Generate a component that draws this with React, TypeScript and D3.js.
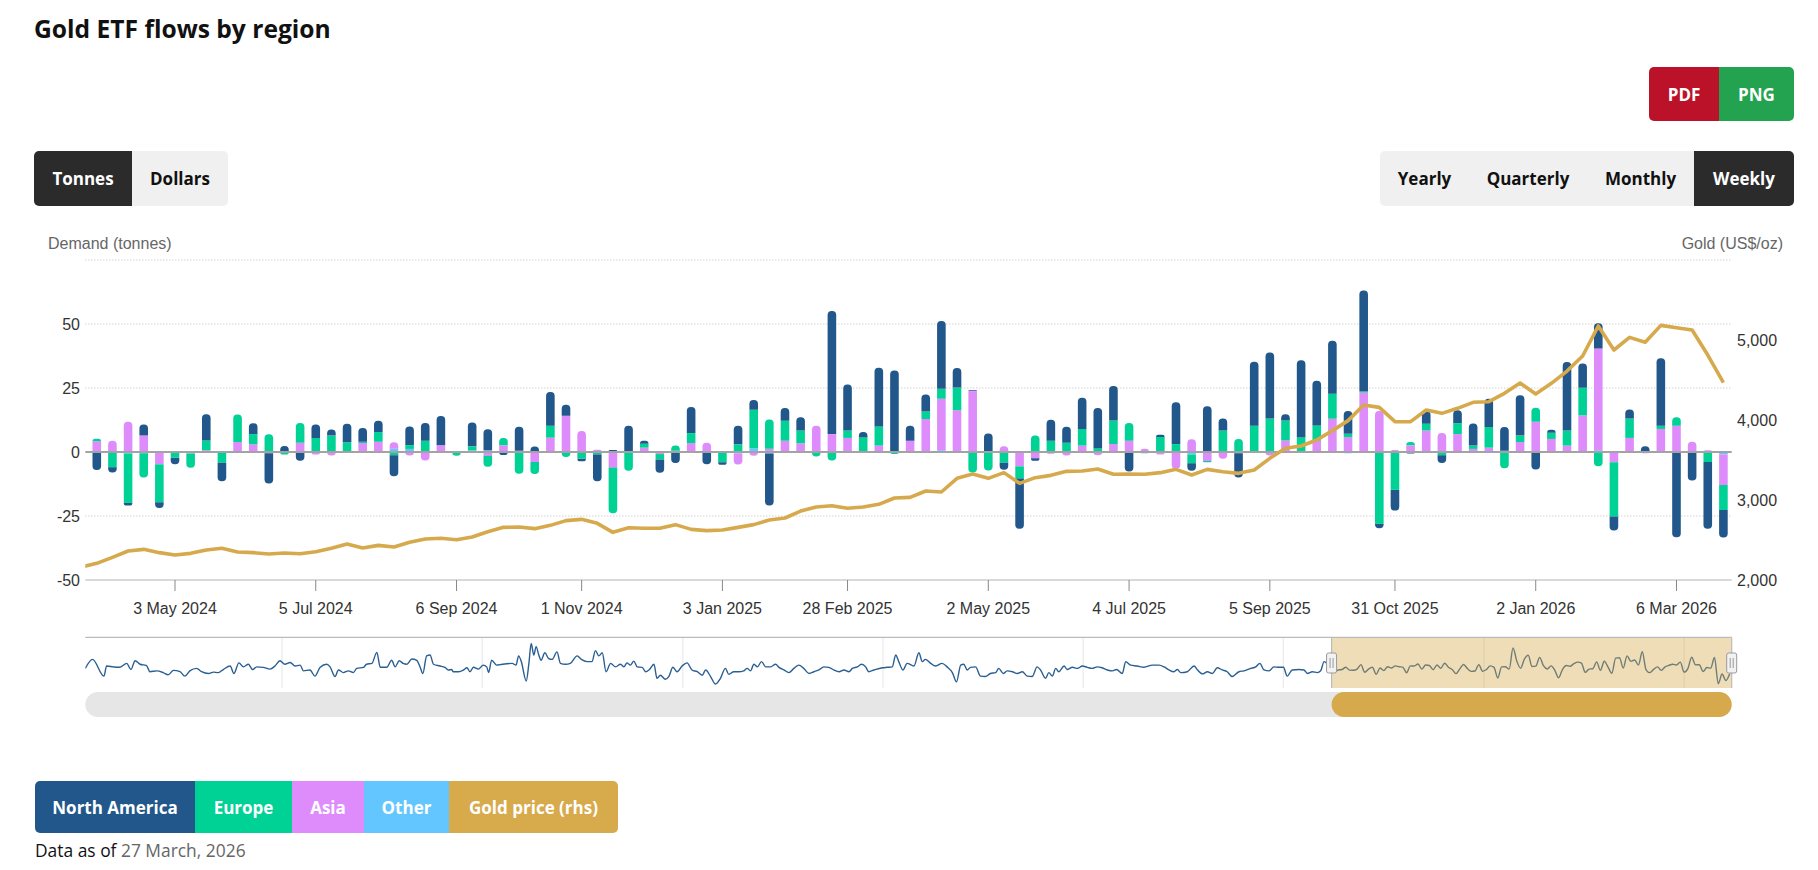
import React from "react";
import * as d3 from "d3";

// weekly ETF flows (tonnes), week ending Friday, 29 Mar 2024 .. 27 Mar 2026
const northAmerica = [
  -7, -2, -1, 4.3, -2.3, -2.6, 0, 10.2, -7.2, 0, 4.2, -11.8, 2.3, -3.4, 5.2, 2.4, 7.2, 5.4, 4.4, -8.2,
  7.3, 6.9, 11.5, 0, 9.3, 8.2, -1.2, 9.4, 1.8, 13.1, 4.3, -1, -10.4, 0.5, 10.3, 1.2, -5.2, -4.3, 10.2, -4.8,
  -1, 7.3, 3.8, -20.3, 5, 5.2, 0, 48.1, 18, 2, 22.9, 31.5, 5.9, 6.7, 26.5, 7.6, 0.3, 7.2, -2.7, -19.6,
  -1, 8.2, 6.3, 12.2, 15.7, 13.5, -7.6, 0, 0.8, 16.3, -2.9, 17.9, 4.7, -9.5, 25, 25.8, 2.4, 30, 17.4, 20.7,
  8.9, 39.5, -1.7, -8.1, -0.6, 5, -3, 5, 8.6, 11, 9.3, 15.8, -6.8, 1.2, 26.8, 9.5, 9.9, -5.5, 3.5, 2.2,
  26.3, -33.3, -11.1, -26.1, -10.7,
];
const europe = [
  1, -6, -19.3, -9.5, -14.8, -2.2, -5.6, 3.8, -4.2, 10.7, 4, 6.9, -1, 7.7, 5.5, 6.4, 3.5, 0.5, 3.8, -1.3,
  1.5, 4.4, 0, -1.5, 1.5, -4.3, 2.9, -8.5, -4.7, 4.7, -2, -2.6, -1, -17.8, -7.3, 1.5, -2.1, 2, 3.9, 0,
  -4, 3, 15, 11.4, 7.8, 5, -1.8, -3.3, 2.9, 5.8, 7.5, -0.8, 0, 2.9, 3.9, 8.9, -8, -7.2, -4.2, -4.8,
  6.4, 4.4, 3.3, 6.5, 1.5, 9.2, 6.9, -0.5, 5.9, 3.1, -3.4, -0.5, 8, 5.1, 10, 13.1, 7.8, 5.5, 6, 9.8,
  1.3, 0.4, -28.1, -14.8, 1.3, 2.6, -1.3, 4.3, 1.3, 8.1, -6.3, 2.5, 5.5, 2.4, 5.9, 10.8, -5.6, -21.2, 7.6, 0,
  1.3, 3.3, 0, -3.9, -9.8,
];
const asia = [
  4.2, 4.4, 11.8, 6.4, -4.8, 0, -0.6, 0.7, 0, 3.9, 2.6, -0.5, 0, 3.3, -1, -1.4, 0.3, 3.1, 4, 2.5,
  -1.4, -3.3, 2.6, 0, 0, -1.5, 2.6, 0.5, -3.9, 5.6, 14.2, 8.2, 0.7, -6.1, 0, 1.7, -0.8, 0, 3.5, 3.6,
  0, -4.3, -1.5, 1.3, 4.4, 3.1, 10.3, 7, 5.5, 0, 2.5, 0, 4.4, 12.5, 20.1, 16, 23.8, 0, 2.2, -5.6,
  -2.4, -0.7, -1.4, 2.5, -1.3, 3.1, 4.4, 1.3, -1, -6.5, 5, -3.5, -2.6, 0, 0, -1.4, 4.2, 0, 4.4, 12.7,
  5.8, 22.9, 16, 0.8, 2.6, 8.4, 7.4, 7, 1.2, 1.4, 0.5, 3.9, 11.4, 5.1, 2.2, 14, 39.7, -4, 5.5, -0.5,
  9, 10.3, 4, 0.7, -11.9,
];
const other = [
  0, 0, -0.6, -0.5, 0, 0, 0, 0, 0, 0, 0.4, 0, 0, 0.3, 0, 0, 0, 0.4, 0, 1.3,
  1.2, 0, 0, 0.2, 0.7, 0.7, 0, 0, 0.3, 0, 0, 0, 0.2, 0.3, 0, 0, 0, 0.5, 0, 0,
  0.3, -0.6, 1.5, -0.6, 0, 0.3, 0, 0, 0, 0, 0, 0.3, 0, 0.4, 0.7, 0.3, 0, 0, 0, 0,
  0, 0, 0.3, 0, 0, 0, 0, 0, 0, 0, -1, 0, 0.4, -0.5, 0.3, 0, 0.3, 0.3, 0, 0.3,
  -0.5, 0.3, 0, 0, 0, 0, 0, 0, 0, 0.3, 0, 0, 0.4, 0, 0.3, 0.3, 0.7, 0, 0, 0,
  0, 0, 0, 0, -1,
];

// gold price (US$/oz), starting one week before the first flow week
const goldPrice = [
  2162,
  2208, 2283, 2362, 2383, 2342, 2312, 2333, 2375, 2396, 2350, 2342, 2325, 2337, 2329, 2354, 2396, 2450, 2400, 2433, 2412,
  2471, 2512, 2521, 2504, 2537, 2604, 2658, 2662, 2642, 2683, 2742, 2758, 2708, 2596, 2654, 2646, 2646, 2692, 2633, 2617,
  2625, 2658, 2692, 2750, 2775, 2862, 2912, 2929, 2896, 2912, 2946, 3025, 3033, 3112, 3100, 3271, 3325, 3271, 3342, 3208,
  3279, 3308, 3358, 3362, 3387, 3321, 3325, 3321, 3342, 3383, 3312, 3383, 3354, 3333, 3375, 3521, 3646, 3675, 3750, 3867,
  3992, 4187, 4158, 3979, 3979, 4125, 4083, 4146, 4221, 4229, 4333, 4462, 4325, 4458, 4612, 4800, 5175, 4875, 5033, 4971,
  5183, 5154, 5125, 4812, 4467,
];

// navigator history (North America, tonnes) before the selected range: [week offset, tonnes]
const navigatorHistory: [number, number][] = [
  [-328.6, 1.5], [-326.7, 22], [-323.7, -16], [-323, 7], [-321.2, 5], [-319.5, 4], [-317.7, 13], [-316.6, -1],
  [-315.5, 19], [-314.2, 11], [-312.5, 8], [-311.6, -6], [-309.8, -4], [-308.1, -8], [-306.8, -13], [-305.4, -3],
  [-303.7, -6], [-302.4, -16], [-301.1, -4], [-299.3, 1.5], [-298, -6], [-296.2, -10], [-294.9, -7], [-293.6, -8],
  [-292.3, -1], [-290.5, 7], [-289.5, -10], [-288.2, 14], [-287, 5], [-285.7, 11], [-284.6, -1], [-283.5, 5],
  [-281.8, 4], [-280, 0], [-278.7, 7], [-277.4, 19], [-276.1, 11], [-274.7, 15], [-273.4, 7], [-272.1, 9],
  [-271.2, -4], [-269.5, -2], [-268.2, -16], [-266.8, 4], [-265.1, 11], [-264.2, 5], [-262.9, -17], [-262, -2],
  [-260.7, -8], [-259.4, -4], [-258.1, -8], [-257.2, 1.5], [-255.4, 4], [-254.6, 11], [-253.2, 13], [-251.9, 38],
  [-251, 4], [-249.3, 4], [-248, 20], [-247.1, 5], [-246, 19], [-245, 13], [-244, 11], [-242.7, 23],
  [-241.4, 20], [-240.5, 4], [-239.8, -10], [-238.8, 30], [-237.9, 32], [-237, 11], [-235.3, 7], [-234, 4],
  [-233.1, -2], [-232.2, -1], [-231.8, -6], [-230.4, -6], [-229.1, -2], [-228.2, 3], [-227.4, -6], [-226.5, 4],
  [-225.2, 0], [-223.9, 9], [-223, 5], [-222.5, -8], [-221.7, 20], [-220.4, 9], [-218.9, 11], [-216.3, 13],
  [-215.3, 9], [-214.6, 30], [-213.9, 17], [-212.6, -27], [-211.9, 13], [-211.3, 58], [-210.6, 32], [-210, 51],
  [-209.3, 32], [-208.7, 20], [-207.7, 37], [-206.7, 24], [-205.8, 22], [-204.5, 39], [-203.6, 13], [-202.3, 11],
  [-201, 13], [-199.2, 30], [-198.1, 22], [-196.6, 17], [-195.3, 17], [-194.4, 42], [-193.5, 30], [-192.6, 37],
  [-191.6, -6], [-190.4, 13], [-189.1, 5], [-187.8, 11], [-186.9, 5], [-186.1, 14], [-185.2, 9], [-184.3, 18],
  [-183.4, 5], [-182.1, 4], [-181.2, -6], [-180.2, -1], [-179, 11], [-178.2, -21], [-177.3, -14], [-176, -23],
  [-175.1, -17], [-174, 4], [-172.9, -6], [-171.6, 7], [-170.3, 14], [-169, -2], [-167.6, -6], [-166.3, -14],
  [-165.4, -2], [-164.1, -17], [-162.8, -34], [-161.5, -21], [-160.2, 1.5], [-159.3, -12], [-158, -6], [-156.7, -6],
  [-155.4, -4], [-154.5, 1.5], [-153.6, -4], [-152.7, 11], [-151.8, 5], [-150.7, 17], [-149.6, 5], [-148.3, 5],
  [-147, 11], [-146.1, 4], [-144.8, -2], [-143.5, -8], [-142.2, 1.5], [-140.9, 9], [-139.6, 1.5], [-138.2, -10],
  [-136.9, -6], [-135.6, -2], [-134.3, 5], [-133, 4], [-131.7, -2], [-130.3, -6], [-129, -2], [-127.7, -6],
  [-126.8, 1.5], [-125.5, 5], [-124.4, 11], [-123.3, 5], [-122.5, -6], [-121.1, -2], [-118.9, 3], [-117.6, 4],
  [-116.3, 5], [-115.4, 32], [-114.6, 17], [-113.5, -2], [-112.4, 13], [-110.6, 7], [-109.3, 37], [-108.4, 17],
  [-107.6, 22], [-106.2, 13], [-104.9, 7], [-103.2, 13], [-101.9, 5], [-100.5, -8], [-99.4, -29], [-98.3, 9],
  [-97.5, 11], [-96.6, -2], [-95.7, 4], [-94.4, 5], [-93.1, -16], [-91.8, -17], [-90.5, -10], [-89.1, -8],
  [-88.3, 1.5], [-87.1, -10], [-86.1, -4], [-84.7, -6], [-83.4, -10], [-82.1, -6], [-80.8, -16], [-79.5, -17],
  [-78.2, 5], [-77.3, -2], [-76, -21], [-75.1, -8], [-74.2, -16], [-73.3, 1.5], [-72.5, -6], [-71.1, 7],
  [-70.3, -1], [-68.9, 4], [-67.6, 1.5], [-66.3, 7], [-65, 4], [-63.7, 1.5], [-62.4, 5], [-61.1, 3],
  [-59.7, -2], [-58.4, -4], [-57.3, -1], [-55.8, -10], [-54.9, 17], [-53.6, 9], [-51.9, 7], [-50.1, 4],
  [-47.9, 9], [-46.1, 9], [-44.8, 5], [-43.5, -2], [-42.2, -6], [-41.3, -1], [-40.4, -8], [-38.7, -6],
  [-36.9, 7], [-36.1, -1], [-34.7, -11], [-33.4, -6], [-32.1, -10], [-30.8, 3], [-29.5, -2], [-28.2, -6],
  [-26.9, -17], [-25.1, -6], [-23.8, -4], [-22, 1.5], [-20.7, 5], [-19.6, 13], [-18.5, -2], [-17.2, -4],
  [-15.9, 5], [-14.6, 4], [-13.4, 4], [-12.4, -16], [-11.1, -2], [-9.3, -1], [-8, -2], [-7.1, -10],
  [-5.8, -6], [-4.5, -8], [-3.6, -4], [-2.7, 17],
];

const xTickLabels = [
  "3 May 2024", "5 Jul 2024", "6 Sep 2024", "1 Nov 2024", "3 Jan 2025", "28 Feb 2025",
  "2 May 2025", "4 Jul 2025", "5 Sep 2025", "31 Oct 2025", "2 Jan 2026", "6 Mar 2026",
];
const leftTicks = [-50, -25, 0, 25, 50, 75];
const rightTicks = [2000, 3000, 4000, 5000];
const navYears = [2019, 2020, 2021, 2022, 2023, 2024, 2025, 2026];

const series = [
  { name: "North America", values: northAmerica, color: "#21578a" },
  { name: "Europe", values: europe, color: "#00d296" },
  { name: "Asia", values: asia, color: "#de8cfc" },
  { name: "Other", values: other, color: "#63c6fe" },
];

const startDate = new Date(2024, 2, 29);
const WEEK = 7 * 864e5;
const parseTick = d3.timeParse("%d %b %Y");
const weekOf = (d: Date) => (d.getTime() - startDate.getTime()) / WEEK;

const AXIS_FONT = "'Liberation Sans', Arial, sans-serif";
const UI_FONT = "'Open Sans', 'Noto Sans', sans-serif";

// one end rounded column piece
function piece(x0: number, w: number, yTop: number, yBot: number, round: "top" | "bottom" | null) {
  const h = yBot - yTop;
  const r = Math.min(4, w / 2, h);
  const x1 = x0 + w;
  if (!round || r <= 0) return `M${x0},${yTop}H${x1}V${yBot}H${x0}Z`;
  if (round === "top")
    return `M${x0},${yBot}V${yTop + r}A${r},${r} 0 0 1 ${x0 + r},${yTop}H${x1 - r}A${r},${r} 0 0 1 ${x1},${yTop + r}V${yBot}Z`;
  return `M${x0},${yTop}H${x1}V${yBot - r}A${r},${r} 0 0 1 ${x1 - r},${yBot}H${x0 + r}A${r},${r} 0 0 1 ${x0},${yBot - r}Z`;
}

const App: React.FC = () => {
  const plot = { left: 85.3, right: 1731.7, top: 260, bottom: 580 };
  const nav = { top: 637.4, bottom: 688 };
  const n = northAmerica.length;

  const x = d3.scaleLinear().domain([-0.735, n - 1 + 0.53]).range([plot.left, plot.right]);
  const y = d3.scaleLinear().domain([-50, 75]).range([plot.bottom, plot.top]);
  const yGold = d3.scaleLinear().domain([2000, 6000]).range([plot.bottom, plot.top]);
  const navX = d3.scaleLinear().domain([-328.6, n - 1 + 0.53]).range([plot.left, plot.right]);
  const navY = d3.scaleLinear().domain([-43, 72]).range([nav.bottom, nav.top]);
  // year lines of the navigator sit on a calendar axis a touch wider than the history sampling
  const navYearX = d3
    .scaleLinear()
    .domain([weekOf(new Date(2019, 0, 1)), weekOf(new Date(2025, 0, 1))])
    .range([282, 1484]);

  const barW = 8.6;
  // stack from zero outward: Other, Asia, Europe, North America
  const stackOrder = [...series].reverse();

  const bars = d3.range(n).map((i) => {
    let pos = 0;
    let neg = 0;
    const segs: { a: number; b: number; color: string; sign: number }[] = [];
    stackOrder.forEach((s) => {
      const v = s.values[i];
      if (v > 0) {
        segs.push({ a: pos, b: pos + v, color: s.color, sign: 1 });
        pos += v;
      } else if (v < 0) {
        segs.push({ a: neg + v, b: neg, color: s.color, sign: -1 });
        neg += v;
      }
    });
    const lastPos = segs.map((s) => s.sign).lastIndexOf(1);
    const lastNeg = segs.map((s) => s.sign).lastIndexOf(-1);
    const x0 = x(i) - barW / 2;
    return segs.map((s, k) => (
      <path
        key={`${i}-${k}`}
        d={piece(x0, barW, y(s.b), y(s.a), k === lastPos ? "top" : k === lastNeg ? "bottom" : null)}
        fill={s.color}
      />
    ));
  });

  const goldLine = d3
    .line<number>()
    .x((_, i) => x(i - 1))
    .y((d) => yGold(d))(goldPrice);

  const navPoints: [number, number][] = [
    ...navigatorHistory,
    ...northAmerica.map((v, i) => [i, v] as [number, number]),
  ];
  const navLine = d3
    .line<[number, number]>()
    .x((d) => navX(d[0]))
    .y((d) => navY(d[1]))
    .curve(d3.curveMonotoneX)(navPoints);

  const maskL = navX(-0.735);
  const maskR = plot.right;

  const tickIdx = xTickLabels.map((t) => Math.round(weekOf(parseTick(t) as Date)));

  const button = (
    label: string,
    x0: number,
    x1: number,
    y0: number,
    y1: number,
    fill: string,
    color: string,
    round: "l" | "r" | "both" | null
  ) => {
    const r = 5;
    const left = round === "l" || round === "both";
    const right = round === "r" || round === "both";
    const d =
      `M${x0 + (left ? r : 0)},${y0}H${x1 - (right ? r : 0)}` +
      (right ? `A${r},${r} 0 0 1 ${x1},${y0 + r}V${y1 - r}A${r},${r} 0 0 1 ${x1 - r},${y1}` : `V${y1}`) +
      `H${x0 + (left ? r : 0)}` +
      (left ? `A${r},${r} 0 0 1 ${x0},${y1 - r}V${y0 + r}A${r},${r} 0 0 1 ${x0 + r},${y0}` : `V${y0}`) +
      "Z";
    return (
      <g key={label}>
        <path d={d} fill={fill} />
        <text
          x={(x0 + x1) / 2}
          y={(y0 + y1) / 2}
          textAnchor="middle"
          dominantBaseline="central"
          fontFamily={UI_FONT}
          fontWeight={700}
          fontSize={17}
          fill={color}
        >
          {label}
        </text>
      </g>
    );
  };

  const legendItems = [
    { label: "North America", color: series[0].color, x0: 35, x1: 195 },
    { label: "Europe", color: series[1].color, x0: 195, x1: 292 },
    { label: "Asia", color: series[2].color, x0: 292, x1: 364 },
    { label: "Other", color: series[3].color, x0: 364, x1: 449 },
    { label: "Gold price (rhs)", color: "#d7aa4b", x0: 449, x1: 618 },
  ];

  return (
    <div style={{ position: "absolute", left: 0, top: 0, width: 1818, height: 870, background: "#fff" }}>
      <svg width={1818} height={870} style={{ display: "block" }}>
        <defs>
          <clipPath id="plotClip">
            <rect x={plot.left} y={plot.top} width={plot.right - plot.left} height={plot.bottom - plot.top} />
          </clipPath>
          <clipPath id="navClip">
            <rect x={plot.left} y={nav.top} width={plot.right - plot.left} height={nav.bottom - nav.top} />
          </clipPath>
        </defs>

        <text x={34} y={38} fontFamily={UI_FONT} fontWeight={700} fontSize={24.6} fill="#111">
          Gold ETF flows by region
        </text>

        {button("PDF", 1649, 1719, 67, 121, "#bb1229", "#fff", "l")}
        {button("PNG", 1719, 1794, 67, 121, "#23a350", "#fff", "r")}

        {button("Tonnes", 34, 132, 151, 206, "#2b2b2b", "#fff", "l")}
        {button("Dollars", 132, 228, 151, 206, "#f0f0f0", "#111", "r")}

        {button("Yearly", 1380, 1469, 151, 206, "#f0f0f0", "#111", "l")}
        {button("Quarterly", 1469, 1587, 151, 206, "#f0f0f0", "#111", null)}
        {button("Monthly", 1587, 1694, 151, 206, "#f0f0f0", "#111", null)}
        {button("Weekly", 1694, 1794, 151, 206, "#2b2b2b", "#fff", "r")}

        <text x={48} y={249} fontFamily={AXIS_FONT} fontSize={16} fill="#666">
          Demand (tonnes)
        </text>
        <text x={1783} y={249} textAnchor="end" fontFamily={AXIS_FONT} fontSize={16} fill="#666">
          Gold (US$/oz)
        </text>

        {/* grid */}
        {leftTicks
          .filter((t) => t !== 0 && t !== -50)
          .map((t) => (
            <line
              key={t}
              x1={plot.left}
              x2={plot.right}
              y1={y(t)}
              y2={y(t)}
              stroke="#bdbdbd"
              strokeWidth={1}
              strokeDasharray="1,2"
            />
          ))}
        <line x1={plot.left} x2={plot.right} y1={plot.bottom} y2={plot.bottom} stroke="#ccc" strokeWidth={1.5} />

        {leftTicks
          .filter((t) => t !== 75)
          .map((t) => (
            <text
              key={t}
              x={80}
              y={y(t)}
              textAnchor="end"
              dominantBaseline="central"
              fontFamily={AXIS_FONT}
              fontSize={16}
              fill="#333"
            >
              {t}
            </text>
          ))}
        {rightTicks.map((t) => (
          <text
            key={t}
            x={1737}
            y={yGold(t)}
            dominantBaseline="central"
            fontFamily={AXIS_FONT}
            fontSize={16}
            fill="#333"
          >
            {d3.format(",")(t)}
          </text>
        ))}

        {tickIdx.map((ti, k) => (
          <g key={k}>
            <line x1={x(ti)} x2={x(ti)} y1={plot.bottom} y2={plot.bottom + 11} stroke="#888" />
            <text
              x={x(ti)}
              y={608}
              textAnchor="middle"
              dominantBaseline="central"
              fontFamily={AXIS_FONT}
              fontSize={16}
              fill="#333"
            >
              {xTickLabels[k]}
            </text>
          </g>
        ))}

        <g>{bars}</g>
        <line x1={plot.left} x2={plot.right} y1={y(0)} y2={y(0)} stroke="#a3a3a3" strokeWidth={2} />

        <path
          d={goldLine || ""}
          fill="none"
          stroke="#d6aa4c"
          strokeWidth={3.6}
          strokeLinejoin="round"
          clipPath="url(#plotClip)"
        />

        {/* navigator */}
        {navYears.map((yr) => {
          const xx = navYearX(weekOf(new Date(yr, 0, 1)));
          return <line key={yr} x1={xx} x2={xx} y1={nav.top} y2={nav.bottom} stroke="#e6e6e6" strokeWidth={1} />;
        })}
        <path d={navLine || ""} fill="none" stroke="#2a5f92" strokeWidth={1.4} clipPath="url(#navClip)" />
        <rect x={maskL} y={nav.top} width={maskR - maskL} height={nav.bottom - nav.top} fill="rgba(214,170,76,0.4)" />
        <line x1={plot.left} x2={plot.right} y1={nav.top} y2={nav.top} stroke="#bbb" strokeWidth={1.2} />
        <line x1={maskL} x2={maskL} y1={nav.top} y2={nav.bottom} stroke="#bbb" strokeWidth={1.2} />
        <line x1={maskR} x2={maskR} y1={nav.top} y2={nav.bottom} stroke="#bbb" strokeWidth={1.2} />
        {[maskL, maskR].map((hx, k) => (
          <g key={k}>
            <rect x={hx - 5} y={653} width={10} height={20} rx={2} fill="#f2f2f2" stroke="#999" strokeWidth={1} />
            <line x1={hx - 1.5} x2={hx - 1.5} y1={658} y2={668} stroke="#999" />
            <line x1={hx + 1.5} x2={hx + 1.5} y1={658} y2={668} stroke="#999" />
          </g>
        ))}

        <rect x={plot.left} y={692} width={plot.right - plot.left} height={25} rx={12.5} fill="#e6e6e6" />
        <rect x={maskL} y={692} width={maskR - maskL} height={25} rx={12.5} fill="#d6aa4c" />

        {/* legend */}
        {legendItems.map((it, k) =>
          button(
            it.label,
            it.x0,
            it.x1,
            781,
            833,
            it.color,
            "#fff",
            k === 0 ? "l" : k === legendItems.length - 1 ? "r" : null
          )
        )}

        <text x={35} y={857} fontFamily={UI_FONT} fontSize={17.4} fill="#111">
          Data as of <tspan fill="#666">27 March, 2026</tspan>
        </text>
      </svg>
    </div>
  );
};

export default App;
